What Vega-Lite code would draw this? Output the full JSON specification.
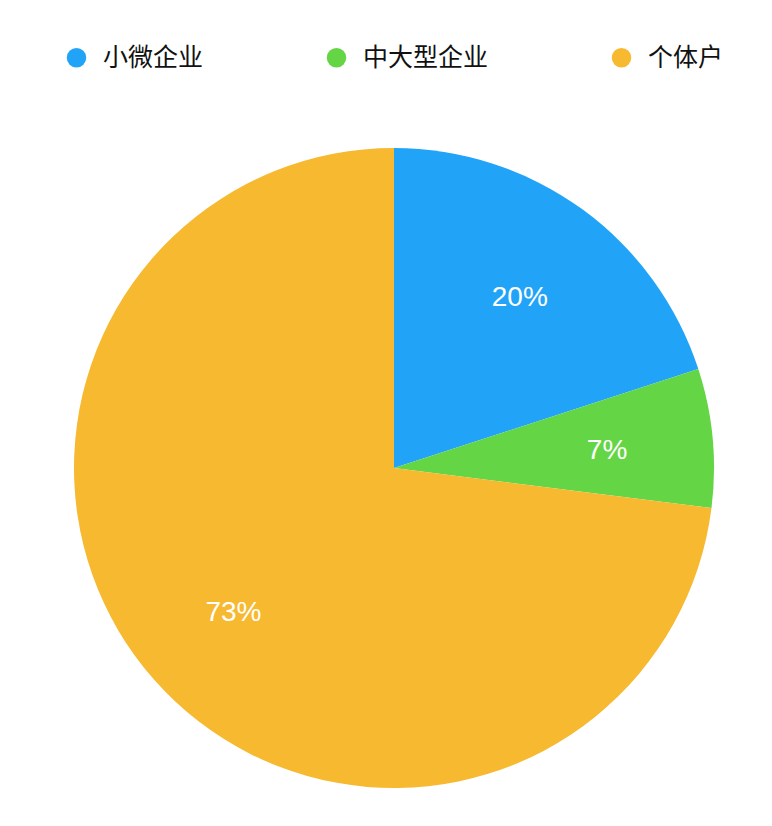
{
  "$schema": "https://vega.github.io/schema/vega-lite/v6.json",
  "width": 756,
  "height": 716,
  "autosize": "none",
  "padding": {"left": 16, "top": 110, "right": 0, "bottom": 0},
  "background": "white",
  "config": {"view": {"stroke": null}},
  "data": {
    "values": [
      {"type": "小微企业", "share": 20, "label": "20%", "rank": 1},
      {"type": "中大型企业", "share": 7, "label": "7%", "rank": 2},
      {"type": "个体户", "share": 73, "label": "73%", "rank": 3}
    ]
  },
  "encoding": {
    "theta": {"field": "share", "type": "quantitative", "stack": true},
    "order": {"field": "rank", "type": "quantitative"}
  },
  "layer": [
    {
      "mark": {"type": "arc", "outerRadius": 320},
      "encoding": {
        "color": {
          "field": "type",
          "type": "nominal",
          "sort": ["小微企业", "中大型企业", "个体户"],
          "scale": {
            "domain": ["小微企业", "中大型企业", "个体户"],
            "range": ["#21A4F8", "#64D545", "#F6B92F"]
          },
          "legend": {
            "title": null,
            "orient": "none",
            "legendX": 48,
            "legendY": -65,
            "direction": "horizontal",
            "columns": 3,
            "columnPadding": 120,
            "symbolType": "circle",
            "symbolSize": 380,
            "symbolStrokeWidth": 0,
            "symbolOpacity": 1,
            "labelOffset": 14,
            "labelFont": "Noto Sans CJK SC",
            "labelFontSize": 25,
            "labelColor": "#111111",
            "labelLimit": 300
          }
        }
      }
    },
    {
      "mark": {
        "type": "text",
        "radius": 214,
        "dy": 3,
        "font": "Liberation Sans",
        "fontSize": 28,
        "color": "white"
      },
      "encoding": {
        "text": {"field": "label", "type": "nominal"},
        "detail": {"field": "type", "type": "nominal"}
      }
    }
  ]
}
